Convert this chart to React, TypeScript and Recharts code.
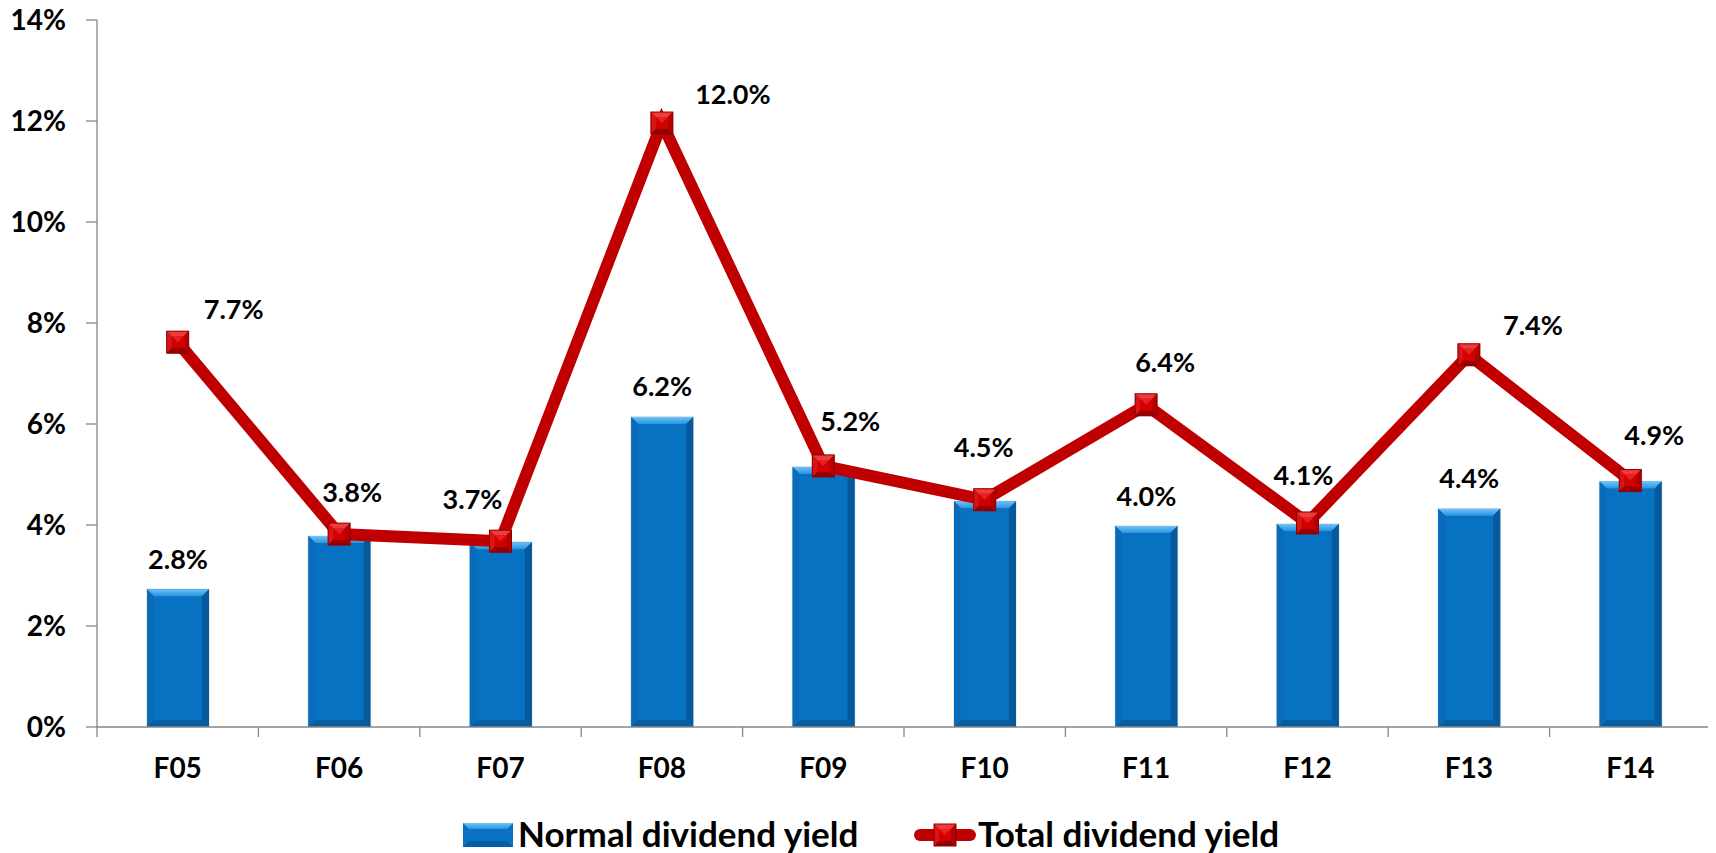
import React from "react";
import { ComposedChart, Bar, Line, XAxis, YAxis, LabelList } from "recharts";

const categories = ["F05", "F06", "F07", "F08", "F09", "F10", "F11", "F12", "F13", "F14"];
const normalYield = [2.73, 3.78, 3.66, 6.14, 5.15, 4.47, 3.98, 4.02, 4.32, 4.86];
const totalYield = [7.62, 3.82, 3.68, 11.96, 5.17, 4.5, 6.38, 4.04, 7.37, 4.88];
const normalLabels = ["2.8%", "", "", "6.2%", "", "", "4.0%", "", "4.4%", ""];
const totalLabels = ["7.7%", "3.8%", "3.7%", "12.0%", "5.2%", "4.5%", "6.4%", "4.1%", "7.4%", "4.9%"];
const yTicks = [0, 2, 4, 6, 8, 10, 12, 14];

// label placement offsets (style, not data)
const totalLabelOffsets: [number, number][] = [
  [56, -34], [13, -43], [-28, -43], [71, -30], [27, -45],
  [-1, -53], [19, -43], [-4, -48], [64, -30], [24, -46],
];

const data = categories.map((c, i) => ({
  name: c,
  normal: normalYield[i],
  total: totalYield[i],
}));

const FONT = "Lato, 'Open Sans', 'DejaVu Sans', sans-serif";
const AXIS = "#868686";
const W = 1716;
const H = 853;

const BevelBar = (props: any) => {
  const { x, y, width: w, height: h } = props;
  if (!h || h <= 0) return null;
  const b = 7;
  return (
    <g>
      <rect x={x - 1} y={y - 1} width={w + 2} height={h + 1} fill="rgba(0,0,0,0.08)" />
      <rect x={x} y={y} width={w} height={h} fill="#0872C2" />
      <polygon points={`${x},${y} ${x + w},${y} ${x + w - b},${y + b} ${x + b},${y + b}`} fill="url(#barTop)" />
      <polygon points={`${x},${y} ${x + b},${y + b} ${x + b},${y + h - b} ${x},${y + h}`} fill="#0A6CB9" />
      <polygon points={`${x + w},${y} ${x + w - b},${y + b} ${x + w - b},${y + h - b} ${x + w},${y + h}`} fill="#065A9C" />
      <polygon points={`${x},${y + h} ${x + b},${y + h - b} ${x + w - b},${y + h - b} ${x + w},${y + h}`} fill="#065EA2" />
    </g>
  );
};

const Marker = (props: any) => {
  const { cx, cy, index } = props;
  if (cx == null || cy == null) return null;
  const s = 11;
  const b = 5;
  const L = cx - s, R = cx + s, T = cy - s, B = cy + s;
  return (
    <g key={`m-${index}`}>
      <rect x={L} y={T} width={2 * s} height={2 * s} fill="#D20000" />
      <polygon points={`${L},${T} ${R},${T} ${R - b},${T + b} ${L + b},${T + b}`} fill="#EE3B3B" />
      <polygon points={`${L},${T} ${L + b},${T + b} ${L + b},${B - b} ${L},${B}`} fill="#D81414" />
      <polygon points={`${R},${T} ${R - b},${T + b} ${R - b},${B - b} ${R},${B}`} fill="#B40000" />
      <polygon points={`${L},${B} ${L + b},${B - b} ${R - b},${B - b} ${R},${B}`} fill="#960000" />
      <polygon points={`${L + b},${T + b} ${R - b},${T + b} ${cx},${cy}`} fill="#E42222" />
      <rect x={L} y={T} width={2 * s} height={2 * s} fill="none" stroke="#8A0000" strokeWidth={1} />
    </g>
  );
};

const TotalLabel = (props: any) => {
  const { x, y, index } = props;
  const [dx, dy] = totalLabelOffsets[index] || [0, -40];
  return (
    <text x={x + dx} y={y + dy} textAnchor="middle" dominantBaseline="central"
      fontFamily={FONT} fontWeight={700} fontSize={27} fill="#000">
      {totalLabels[index]}
    </text>
  );
};

const NormalLabel = (props: any) => {
  const { x, y, width, index } = props;
  const t = normalLabels[index];
  if (!t) return null;
  return (
    <text x={x + width / 2} y={y - 31} textAnchor="middle" dominantBaseline="central"
      fontFamily={FONT} fontWeight={700} fontSize={27} fill="#000">
      {t}
    </text>
  );
};

const XTick = (props: any) => {
  const { x, y, payload, index } = props;
  const half = payload && payload.offset ? payload.offset : 80.7;
  return (
    <g>
      {index === 0 && <line x1={x - half} x2={x - half} y1={y} y2={y + 10} stroke={AXIS} strokeWidth={1.3} />}
      <line x1={x + half} x2={x + half} y1={y} y2={y + 10} stroke={AXIS} strokeWidth={1.3} />
      <text x={x} y={y + 51} textAnchor="middle" fontFamily={FONT} fontWeight={700} fontSize={28} fill="#000">
        {payload.value}
      </text>
    </g>
  );
};

export default function App() {
  return (
    <div style={{ position: "relative", width: W, height: H, margin: "-8px 0 0 -8px" }}>
      <ComposedChart width={W} height={H} data={data}
        margin={{ top: 20, right: 5, left: 0, bottom: 0 }} barSize={62}>
        <defs>
          <linearGradient id="barTop" x1="0" y1="0" x2="0" y2="1">
            <stop offset="0%" stopColor="#6EC4F8" />
            <stop offset="100%" stopColor="#2A92DE" />
          </linearGradient>
        </defs>
        <XAxis dataKey="name" height={126} tickSize={0} tickMargin={0} tickLine={false}
          axisLine={{ stroke: AXIS, strokeWidth: 1.3 }} tick={<XTick />} interval={0} />
        <YAxis width={97} domain={[0, 14]} ticks={yTicks} tickSize={11} tickMargin={20}
          tickFormatter={(v: number) => `${v}%`}
          axisLine={{ stroke: AXIS, strokeWidth: 1.3 }} tickLine={{ stroke: AXIS, strokeWidth: 1.3 }}
          tick={{ fontFamily: FONT, fontWeight: 700, fontSize: 28, fill: "#000" }} />
        <Bar dataKey="normal" shape={<BevelBar />} isAnimationActive={false}>
          <LabelList dataKey="normal" content={<NormalLabel />} />
        </Bar>
        <Line dataKey="total" type="linear" stroke="#C00000" strokeWidth={12}
          dot={<Marker />} activeDot={false} isAnimationActive={false}>
          <LabelList dataKey="total" content={<TotalLabel />} />
        </Line>
      </ComposedChart>
      <svg width={W} height={H} style={{ position: "absolute", left: 0, top: 0, pointerEvents: "none" }}>
        <defs>
          <linearGradient id="legTop" x1="0" y1="0" x2="0" y2="1">
            <stop offset="0%" stopColor="#6EC4F8" />
            <stop offset="100%" stopColor="#2A92DE" />
          </linearGradient>
        </defs>
        <g>
          <rect x={463} y={823} width={50} height={24} fill="#0872C2" />
          <polygon points="463,823 513,823 507,829 469,829" fill="url(#legTop)" />
          <polygon points="463,847 469,841 507,841 513,847" fill="#065EA2" />
          <text x={518} y={847} fontFamily={FONT} fontWeight={700} fontSize={35} fill="#000">Normal dividend yield</text>
        </g>
        <g>
          <line x1={920} x2={970} y1={835} y2={835} stroke="#C00000" strokeWidth={12} strokeLinecap="round" />
          <Marker cx={945} cy={835} index={99} />
          <text x={978} y={847} fontFamily={FONT} fontWeight={700} fontSize={35} fill="#000">Total dividend yield</text>
        </g>
      </svg>
    </div>
  );
}
